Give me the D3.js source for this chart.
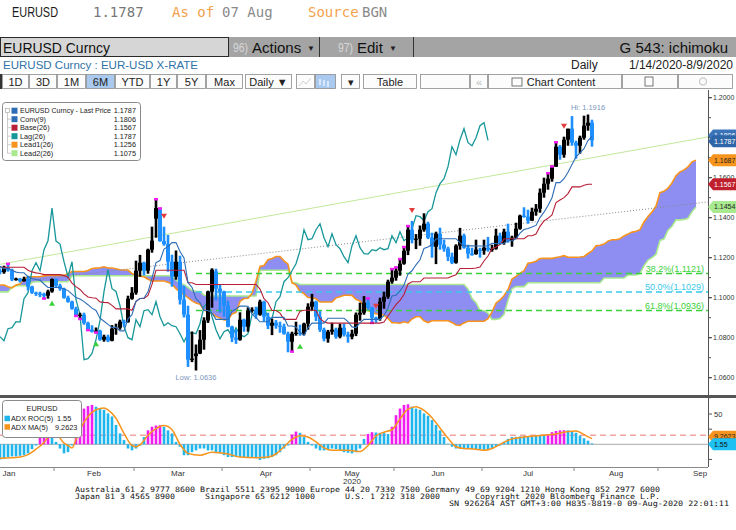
<!DOCTYPE html>
<html><head><meta charset="utf-8">
<script src="https://cdn.jsdelivr.net/npm/d3@7"></script>
<style>body{margin:0;background:#fff;} svg{display:block;} text{font-family:"Liberation Sans",Arial,sans-serif;}</style>
</head><body><div id="chart"></div>
<script>
// ---------------- DATA ----------------
const openP=[1.1135,1.1128,1.1150,1.1137,1.1091,1.1095,1.1083,1.1093,1.1055,1.1025,
1.1020,1.1018,1.1010,1.1031,1.1093,1.1060,1.1045,1.1000,1.0980,1.0945,
1.0910,1.0915,1.0873,1.0840,1.0830,1.0835,1.0790,1.0805,1.0785,1.0845,
1.0850,1.0880,1.0878,1.0995,1.1025,1.1135,1.1175,1.1135,1.1240,1.1395,
1.1447,1.1283,1.1268,1.1180,1.1105,1.1180,1.0990,1.0915,1.0692,1.0708,
1.0721,1.0790,1.0886,1.1030,1.1131,1.1045,1.1031,1.0960,1.0855,1.0800,
1.0790,1.0890,1.0855,1.0935,1.0940,1.0915,1.0980,1.0905,1.0860,1.0875,
1.0860,1.0855,1.0820,1.0780,1.0820,1.0825,1.0820,1.0870,1.0955,1.0980,
1.0905,1.0840,1.0795,1.0830,1.0840,1.0805,1.0850,1.0815,1.0805,1.0820,
1.0915,1.0925,1.0975,1.0950,1.0900,1.0895,1.0980,1.1005,1.1080,1.1100,
1.1135,1.1170,1.1235,1.1340,1.1290,1.1295,1.1340,1.1370,1.1300,1.1255,
1.1320,1.1265,1.1245,1.1205,1.1175,1.1260,1.1310,1.1250,1.1220,1.1218,
1.1240,1.1235,1.1250,1.1240,1.1245,1.1310,1.1275,1.1330,1.1285,1.1300,
1.1345,1.1410,1.1405,1.1385,1.1430,1.1445,1.1525,1.1570,1.1595,1.1655,
1.1755,1.1715,1.1790,1.1845,1.1775,1.1760,1.1800,1.1860,1.1875];
const highP=[1.1146,1.1160,1.1173,1.1145,1.1100,1.1099,1.1105,1.1110,1.1060,1.1030,
1.1030,1.1025,1.1040,1.1096,1.1096,1.1070,1.1050,1.1010,1.0985,1.0955,
1.0925,1.0925,1.0880,1.0862,1.0851,1.0840,1.0815,1.0815,1.0863,1.0870,
1.0890,1.0890,1.1010,1.1053,1.1185,1.1214,1.1180,1.1245,1.1355,1.1496,
1.1450,1.1355,1.1314,1.1215,1.1236,1.1210,1.1060,1.0960,1.0831,1.0766,
1.0838,1.0902,1.1035,1.1147,1.1145,1.1066,1.1035,1.0985,1.0860,1.0840,
1.0927,1.0895,1.0952,1.0952,1.0955,1.0990,1.0985,1.0925,1.0895,1.0888,
1.0880,1.0870,1.0830,1.0830,1.0880,1.0865,1.0875,1.0972,1.1019,1.0985,
1.0933,1.0850,1.0839,1.0875,1.0850,1.0870,1.0870,1.0830,1.0840,1.0926,
1.0975,1.1008,1.1000,1.0955,1.0905,1.1000,1.1030,1.1090,1.1147,1.1155,
1.1197,1.1257,1.1362,1.1384,1.1318,1.1361,1.1422,1.1380,1.1325,1.1330,
1.1350,1.1290,1.1255,1.1225,1.1267,1.1349,1.1320,1.1265,1.1250,1.1290,
1.1250,1.1290,1.1304,1.1265,1.1345,1.1325,1.1345,1.1370,1.1310,1.1375,
1.1415,1.1452,1.1440,1.1450,1.1468,1.1546,1.1600,1.1626,1.1660,1.1781,
1.1763,1.1805,1.1845,1.1908,1.1785,1.1810,1.1910,1.1916,1.1890];
const lowP=[1.1117,1.1120,1.1130,1.1083,1.1085,1.1076,1.1080,1.1036,1.1019,1.1009,
1.1003,1.0992,1.0995,1.1025,1.1052,1.1035,1.0995,1.0975,1.0940,1.0905,
1.0890,1.0865,1.0834,1.0826,1.0822,1.0785,1.0780,1.0778,1.0782,1.0815,
1.0840,1.0855,1.0875,1.0990,1.1015,1.1105,1.1112,1.1120,1.1225,1.1300,
1.1280,1.1260,1.1130,1.1055,1.1090,1.0966,1.0901,1.0654,1.0678,1.0636,
1.0718,1.0740,1.0874,1.0950,1.0986,1.0925,1.0905,1.0852,1.0778,1.0769,
1.0785,1.0830,1.0830,1.0925,1.0895,1.0910,1.0880,1.0843,1.0813,1.0845,
1.0825,1.0815,1.0727,1.0727,1.0810,1.0810,1.0812,1.0840,1.0935,1.0883,
1.0829,1.0782,1.0775,1.0815,1.0795,1.0797,1.0806,1.0775,1.0792,1.0808,
1.0885,1.0915,1.0940,1.0870,1.0875,1.0885,1.0945,1.0995,1.1070,1.1085,
1.1110,1.1165,1.1213,1.1272,1.1243,1.1260,1.1330,1.1293,1.1200,1.1168,
1.1240,1.1230,1.1183,1.1168,1.1170,1.1240,1.1245,1.1196,1.1210,1.1215,
1.1200,1.1215,1.1230,1.1230,1.1240,1.1265,1.1265,1.1275,1.1255,1.1295,
1.1340,1.1400,1.1370,1.1385,1.1410,1.1425,1.1500,1.1540,1.1580,1.1655,
1.1690,1.1700,1.1760,1.1760,1.1695,1.1720,1.1790,1.1835,1.1755];
const closeP=[1.1128,1.1150,1.1137,1.1091,1.1095,1.1083,1.1093,1.1055,1.1025,1.1020,
1.1018,1.1010,1.1031,1.1093,1.1060,1.1045,1.1000,1.0980,1.0945,1.0910,
1.0915,1.0873,1.0840,1.0830,1.0835,1.0790,1.0805,1.0785,1.0845,1.0850,
1.0880,1.0878,1.0995,1.1025,1.1135,1.1175,1.1135,1.1240,1.1285,1.1448,
1.1283,1.1268,1.1180,1.1105,1.1180,1.0990,1.0915,1.0690,1.0695,1.0721,
1.0790,1.0886,1.1030,1.1140,1.1045,1.1031,1.0960,1.0855,1.0800,1.0790,
1.0890,1.0855,1.0935,1.0940,1.0915,1.0980,1.0905,1.0860,1.0875,1.0860,
1.0855,1.0820,1.0780,1.0820,1.0825,1.0820,1.0870,1.0955,1.0980,1.0905,
1.0840,1.0795,1.0830,1.0840,1.0805,1.0850,1.0815,1.0805,1.0820,1.0915,
1.0925,1.0975,1.0950,1.0900,1.0895,1.0980,1.1005,1.1080,1.1100,1.1135,
1.1170,1.1235,1.1340,1.1290,1.1295,1.1340,1.1370,1.1300,1.1255,1.1320,
1.1265,1.1245,1.1205,1.1175,1.1260,1.1310,1.1250,1.1220,1.1218,1.1240,
1.1235,1.1250,1.1240,1.1245,1.1310,1.1275,1.1330,1.1285,1.1300,1.1345,
1.1410,1.1405,1.1385,1.1430,1.1445,1.1525,1.1570,1.1595,1.1655,1.1755,
1.1715,1.1790,1.1845,1.1775,1.1760,1.1800,1.1860,1.1875,1.1787];

const convLine=[1.1157,1.11455,1.11455,1.11375,1.1128,1.11245,1.11245,1.11045,1.1096,1.1091,
1.1088,1.10685,1.1051,1.1051,1.1051,1.1051,1.1044,1.10355,1.1018,1.10005,
1.0993,1.09805,1.0965,1.0948,1.0936,1.08975,1.08825,1.08665,1.08515,1.08515,
1.0834,1.0834,1.0894,1.09155,1.09815,1.0996,1.0998,1.1030,1.10975,1.11755,
1.11855,1.1243,1.12555,1.12755,1.12755,1.1231,1.11985,1.1075,1.1052,1.09955,
1.0975,1.0936,1.0936,1.0923,1.08915,1.08915,1.08915,1.08915,1.09325,1.09435,
1.0958,1.0958,1.0957,1.09175,1.0900,1.08795,1.08795,1.08795,1.09015,1.09015,
1.09015,1.09015,1.08585,1.08585,1.08535,1.0826,1.0811,1.08495,1.0873,1.0873,
1.0873,1.0873,1.0897,1.0897,1.0897,1.0897,1.0897,1.0880,1.0854,1.08505,
1.0875,1.08915,1.08915,1.08915,1.08915,1.08915,1.0911,1.0949,1.10085,1.10125,
1.10335,1.10635,1.11185,1.11345,1.11645,1.11895,1.1246,1.12535,1.1266,1.12935,
1.1295,1.1295,1.1295,1.1295,1.1295,1.1274,1.1259,1.1259,1.1259,1.12585,
1.12585,1.12585,1.12595,1.12725,1.12705,1.12705,1.12725,1.1285,1.1285,1.1295,
1.13225,1.1341,1.1346,1.13535,1.13615,1.14005,1.14275,1.14605,1.1500,1.15755,
1.15755,1.1595,1.16275,1.16665,1.1704,1.1724,1.1745,1.17855,1.1806];
const baseLine=[1.1152,1.1152,1.1152,1.1152,1.1152,1.1152,1.1152,1.11375,1.1129,1.1124,
1.1121,1.11155,1.11155,1.11155,1.11155,1.11155,1.11105,1.1102,1.1073,1.10555,
1.1041,1.1019,1.10035,1.09995,1.09975,1.0979,1.09765,1.09755,1.09615,1.0944,
1.0944,1.0944,1.0944,1.0937,1.09815,1.0996,1.0996,1.10115,1.10665,1.1137,
1.1137,1.1137,1.1137,1.1137,1.1137,1.1137,1.1137,1.1075,1.1075,1.1066,
1.1066,1.1066,1.1066,1.1066,1.1066,1.1066,1.1066,1.1066,1.1066,1.1066,
1.1066,1.1066,1.1066,1.1066,1.1066,1.1043,1.09955,1.0975,1.0936,1.0936,
1.0923,1.08915,1.08915,1.08915,1.08915,1.09325,1.0937,1.0937,1.0937,1.0936,
1.08965,1.0879,1.0873,1.0873,1.0873,1.0873,1.0873,1.0873,1.0873,1.0873,
1.0873,1.0873,1.0873,1.0873,1.0873,1.0873,1.08785,1.09085,1.0937,1.0965,
1.0986,1.1016,1.10685,1.10795,1.10795,1.10795,1.10985,1.10985,1.10985,1.10985,
1.10985,1.10985,1.10985,1.1107,1.1115,1.1146,1.1146,1.1146,1.1146,1.11485,
1.11535,1.11835,1.12085,1.1246,1.12535,1.1266,1.12935,1.1295,1.1295,1.1295,
1.1295,1.1295,1.1310,1.1310,1.1318,1.1357,1.1384,1.1397,1.1414,1.14755,
1.14885,1.15005,1.15205,1.1554,1.1554,1.1554,1.15625,1.1567,1.1567];
// Leading spans, already displaced 26 periods forward (index 0 = first chart day)
const lead1Line=[1.10635,1.10635,1.1055,1.1049,1.1063,1.1068,1.10955,1.1105,1.1105,1.1105,
1.1105,1.1109,1.11115,1.11115,1.11115,1.11115,1.11115,1.1121,1.1131,1.1131,
1.1131,1.1131,1.1136,1.1146,1.1148,1.1150,
1.11545,1.11488,1.11488,1.11448,1.1140,1.11383,1.11383,1.1121,1.11125,1.11075,
1.11045,1.1092,1.10833,1.10833,1.10833,1.10833,1.10773,1.10688,1.10455,1.1028,
1.1017,1.09998,1.09843,1.09738,1.09668,1.09383,1.09295,1.0921,1.09065,1.08978,
1.0889,1.0889,1.0919,1.09263,1.09815,1.0996,1.0997,1.10208,1.1082,1.11563,
1.11613,1.1190,1.11963,1.12063,1.12063,1.1184,1.11678,1.1075,1.10635,1.10308,
1.10205,1.1001,1.1001,1.09945,1.09788,1.09788,1.09788,1.09788,1.09993,1.10048,
1.1012,1.1012,1.10115,1.09918,1.0983,1.09613,1.09375,1.09273,1.09188,1.09188,
1.09123,1.08965,1.0875,1.0875,1.08725,1.08793,1.0874,1.08933,1.0905,1.09045,
1.08848,1.0876,1.0885,1.0885,1.0885,1.0885,1.0885,1.08765,1.08635,1.08618,
1.0874,1.08823,1.08823,1.08823,1.08823,1.08823,1.08948,1.09288,1.09728,1.09888,
1.10098,1.10398,1.10935,1.1107,1.1122,1.11345,1.11723,1.1176,1.11823,1.1196,
1.11968,1.11968,1.11968,1.1201,1.1205,1.1210,1.12025,1.12025,1.12025,1.12035,
1.1206,1.1221,1.1234,1.12593,1.1262,1.12683,1.1283,1.1290,1.1290,1.1295,
1.13088,1.1318,1.1328,1.13318,1.13398,1.13788,1.14058,1.14288,1.1457,1.15255,
1.1532,1.15478,1.1574,1.16103,1.1629,1.1639,1.16538,1.16793,1.1687];
const lead2Line=[1.1029,1.1029,1.1029,1.1052,1.10595,1.10595,1.10595,1.10595,1.1077,1.1080,
1.1080,1.1080,1.1080,1.1080,1.1080,1.1080,1.1080,1.1080,1.1110,1.1110,
1.1110,1.1110,1.1110,1.1110,1.1110,1.1110,
1.1110,1.1110,1.1110,1.1110,1.1110,1.1110,1.1110,1.1110,1.1110,1.1110,
1.1110,1.1110,1.1110,1.1110,1.1110,1.1110,1.1110,1.1107,1.10895,1.1072,
1.10645,1.1052,1.10365,1.10325,1.10305,1.1012,1.10095,1.10085,1.10085,1.10085,
1.10085,1.10085,1.10085,1.10085,1.10085,1.10085,1.10085,1.10085,1.10085,1.1137,
1.1137,1.1137,1.1137,1.1137,1.1137,1.1137,1.1137,1.1075,1.1075,1.1066,
1.1066,1.1066,1.1066,1.1066,1.1066,1.1066,1.1066,1.1066,1.1066,1.1066,
1.1066,1.1066,1.1066,1.1066,1.1066,1.1066,1.1066,1.1066,1.1066,1.1066,
1.1066,1.1066,1.1066,1.1066,1.1066,1.1066,1.1066,1.1066,1.1066,1.1066,
1.1066,1.1066,1.1066,1.1066,1.1066,1.1066,1.1066,1.1066,1.1066,1.1066,
1.1066,1.1043,1.09955,1.0975,1.0936,1.0936,1.0923,1.08915,1.08915,1.08955,
1.09165,1.09875,1.10445,1.10555,1.10555,1.10555,1.10745,1.10745,1.10745,1.10745,
1.10745,1.10745,1.10745,1.10745,1.10745,1.10745,1.10745,1.10745,1.10745,1.10745,
1.10745,1.10745,1.10745,1.10745,1.10745,1.10985,1.10985,1.10985,1.10985,1.10985,
1.10985,1.11135,1.11135,1.11135,1.11215,1.11605,1.11875,1.12005,1.12175,1.12865,
1.12945,1.13375,1.13575,1.1389,1.1389,1.13915,1.13975,1.14305,1.1454];

const adxRoc=[-25,-24,-21,-20,-20,-19,-18,-15,-8,-2,
17,24,26,20,4,-7,-15,-13,-2,20,
43,59,63,65,62,59,57,51,46,32,
18,7,-7,-10,-7,-2,12,23,29,31,
31.5,29,23,18,4,-4,-18,-18,-13,-10,
-7,-7,-10,-10,-13,-15,-18,-21,-21,-21,
-21,-21,-21,-21,-23,-26,-24,-23,-21,-18,
-13,-7,-2,16,21,19,12,4,-2,-7,
-10,-10,-8,-7,-8,-10,-13,-14,-15,-13,
-7,9,17,20,19.5,19,18.5,17,29,48,
59,65,66,62,59,57,51,47,40,32,
23,12,1,-4,-7,-7,-8,-8,-8,-8.5,
-8.5,-9,-9,-7,-4,-2,4,9,12,12.2,
13,13.2,13.5,13.8,14.5,14.6,14.8,17,20,22,
23,23.2,23,21,19,14.5,10,6,1.55];
const adxMaIdx=[0,5,7,9,11,12,14,16,17,18,19,20,22,24,26,27,29,31,33,34,35,37,39,41,43,45,47,50,53,57,60,64,67,69,71,73,75,77,79,81,83,87,90,92,94,96,98,100,102,104,106,108,110,112,114,116,119,121,123,125,128,131,135,139,142,144,146,148];
const adxMaVal=[-23,-21,-17,-8,3,11,16,2,-2,-6,8,24,46,57,60,57,43,18,-2,-4,-1,15,26,31,24,0,-15,-18,-13,-16,-21,-22,-21,-16,-4,8,14,12,4,-6,-10,-10,-12,-2,14,20,24,42,58,62,56,44,27,10,-4,-7,-8,-10,-7,0,9,12,14.5,17,21,22,16,9.26];
const adxLevel=15;

const monthLabels=["Jan","Feb","Mar","Apr","May","Jun","Jul","Aug","Sep"];
const monthStart=[-9,14,34,56,78,99,121,144,165,186];
const priceTicks=[1.06,1.08,1.10,1.12,1.14,1.16,1.18,1.20];
const fibVals=[1.1121,1.1029,1.0936];
const fibLabels=["38.2%(1.1121)","50.0%(1.1029)","61.8%(1.0936)"];
const fibStartIdx=49;
const trendIdx=[0,177], trendVal=[1.1167,1.1804];
const dotIdx=[10,177], dotVal=[1.1093,1.1479];
const sellIdx=[41,94,103,141], buyIdx=[13,24,75];
const tdHigh=[2,39,40,92,98,99,100,101,102,137,138,139], tdLow=[11,19,20,22,24,73,93];
const legendNames=["EURUSD Curncy - Last Price","Conv(9)","Base(26)","Lag(26)","Lead1(26)","Lead2(26)"];
const legendVals=["1.1787","1.1806","1.1567","1.1787","1.1256","1.1075"];
const adxNames=["ADX ROC(5)","ADX MA(5)"], adxVals=["1.55","9.2623"];
const lagShift=26;

// ---------------- STYLE ----------------
const C={up:"#000",down:"#1e8fff",conv:"#2d6db5",base:"#b61f37",lag:"#17979a",lead1:"#f7941d",lead2:"#a8e88e",cloud:"#8e8ef2",mag:"#f01cf0",cyan:"#1fb6ee"};
const legendColors=[C.conv,C.conv,C.base,C.lag,C.lead1,C.lead2];
const mono='"DejaVu Sans Mono",monospace';

const W=736,H=530;
const svg=d3.select("#chart").append("svg").attr("width",W).attr("height",H);
svg.append("rect").attr("width",W).attr("height",H).attr("fill","#fff");

// ---------------- HEADER ----------------
svg.append("text").attr("x",12).attr("y",17).attr("font-size",15).attr("textLength",46).attr("lengthAdjust","spacingAndGlyphs").attr("fill","#1a1a1a").text("EURUSD");
svg.append("text").attr("x",93).attr("y",17).style("font-family",mono).attr("font-size",14).attr("fill","#777").text(closeP[closeP.length-1].toFixed(4));
svg.append("text").attr("x",172).attr("y",17).style("font-family",mono).attr("font-size",14).attr("fill","#f4a14c").text("As of");
svg.append("text").attr("x",222).attr("y",17).style("font-family",mono).attr("font-size",14).attr("fill","#8a8a8a").text("07 Aug");
svg.append("text").attr("x",308).attr("y",17).style("font-family",mono).attr("font-size",14).attr("fill","#f4a14c").text("Source");
svg.append("text").attr("x",362).attr("y",17).style("font-family",mono).attr("font-size",14).attr("fill","#8a8a8a").text("BGN");

svg.append("rect").attr("x",0).attr("y",37).attr("width",W).attr("height",20).attr("fill","#a4a4a4");
svg.append("rect").attr("x",0.5).attr("y",37.5).attr("width",228).attr("height",19).attr("fill","#d6d6d6").attr("stroke","#2a2a2a");
svg.append("text").attr("x",3).attr("y",53).attr("font-size",15).attr("textLength",107).attr("lengthAdjust","spacingAndGlyphs").attr("fill","#111").text("EURUSD Curncy");
svg.append("text").attr("x",233).attr("y",52).attr("font-size",12).attr("textLength",15).attr("lengthAdjust","spacingAndGlyphs").attr("fill","#d8d8d8").text("96)");
svg.append("text").attr("x",252).attr("y",53).attr("font-size",15).attr("fill","#111").text("Actions");
svg.append("text").attr("x",307).attr("y",51).attr("font-size",8).attr("fill","#222").text("▼");
svg.append("line").attr("x1",319.5).attr("x2",319.5).attr("y1",37).attr("y2",57).attr("stroke","#333");
svg.append("text").attr("x",338).attr("y",52).attr("font-size",12).attr("textLength",15).attr("lengthAdjust","spacingAndGlyphs").attr("fill","#d8d8d8").text("97)");
svg.append("text").attr("x",357).attr("y",53).attr("font-size",15).attr("fill","#111").text("Edit");
svg.append("text").attr("x",389).attr("y",51).attr("font-size",8).attr("fill","#222").text("▼");
svg.append("line").attr("x1",413.5).attr("x2",413.5).attr("y1",37).attr("y2",57).attr("stroke","#333");
svg.append("text").attr("x",728).attr("y",53).attr("text-anchor","end").attr("font-size",15).attr("fill","#111").text("G 543: ichimoku");

svg.append("text").attr("x",3).attr("y",69).attr("font-size",11.5).attr("textLength",195).attr("lengthAdjust","spacingAndGlyphs").attr("fill","#2f73a6").text("EURUSD Curncy : EUR-USD X-RATE");
svg.append("text").attr("x",571).attr("y",69).attr("font-size",12).attr("fill","#222").text("Daily");
svg.append("text").attr("x",733).attr("y",69).attr("text-anchor","end").attr("font-size",12).attr("fill","#222").text("1/14/2020-8/9/2020");

// toolbar
const btns=[[2,29,"1D"],[29,57,"3D"],[57,86,"1M"],[86,115,"6M"],[115,150,"YTD"],[150,177,"1Y"],[177,206,"5Y"],[206,243,"Max"],[245,292,"Daily ▼"],[296,315,""],[315,336,""],[341,360,"▾"],[363,417,"Table"],[420,470,""],[470,488,"«"],[488,622,"Chart Content"],[622,678,""],[678,733,""]];
svg.append("rect").attr("x",0).attr("y",74).attr("width",2).attr("height",15).attr("fill","#333");
btns.forEach(([a,b,t],k)=>{
  const hl=(t==="6M"||k===10);
  svg.append("rect").attr("x",a+0.5).attr("y",74.5).attr("width",b-a-1).attr("height",14).attr("fill",hl?"#a9c9ee":"#fcfcfc").attr("stroke","#8c8c8c").attr("stroke-width",0.8);
  if(t) svg.append("text").attr("x",(a+b)/2+(t==="Chart Content"?6:0)).attr("y",85.5).attr("text-anchor","middle").attr("font-size",11).attr("fill",t==="«"?"#bbb":"#222").text(t);
});
svg.append("polyline").attr("points","299,86 303,81 306,84 311,78").attr("fill","none").attr("stroke","#d0d0d0");
svg.append("g").selectAll("rect").data([0,1,2]).join("rect").attr("x",d=>319+d*4).attr("y",d=>79+d).attr("width",2).attr("height",6).attr("fill","#d8e8fa");
svg.append("rect").attr("x",512).attr("y",78).attr("width",10).attr("height",8).attr("fill","none").attr("stroke","#555").attr("stroke-width",0.8);
svg.append("rect").attr("x",645).attr("y",77).attr("width",8).attr("height",9).attr("fill","none").attr("stroke","#555").attr("stroke-width",0.8);
svg.append("circle").attr("cx",703).attr("cy",81.5).attr("r",3.5).attr("fill","none").attr("stroke","#d0d0d0").attr("stroke-width",1.5);

// ---------------- SCALES ----------------
const xs=d3.scaleLinear().domain([0,177]).range([0,708]);
const ys=d3.scaleLinear().domain([1.06,1.20]).range([377.7,97.7]);
const ya=d3.scaleLinear().domain([0,50]).range([444.3,414]);

svg.append("clipPath").attr("id","mc").append("rect").attr("x",0).attr("y",90).attr("width",708).attr("height",305);
svg.append("clipPath").attr("id","bc").append("rect").attr("x",0).attr("y",398).attr("width",708).attr("height",69);
const main=svg.append("g").attr("clip-path","url(#mc)");

// cloud
const idx=d3.range(lead1Line.length);
main.append("path").datum(idx).attr("fill",C.cloud)
  .attr("d",d3.area().x(j=>xs(j)).y0(j=>ys(lead2Line[j])).y1(j=>ys(lead1Line[j])));
main.append("path").datum(idx).attr("fill","none").attr("stroke",C.lead2).attr("stroke-width",1.6)
  .attr("d",d3.line().x(j=>xs(j)).y(j=>ys(lead2Line[j])));
main.append("path").datum(idx).attr("fill","none").attr("stroke",C.lead1).attr("stroke-width",1.6)
  .attr("d",d3.line().x(j=>xs(j)).y(j=>ys(lead1Line[j])));

// fib lines
const fibColors=["#3bd13b","#39c8ea","#3bd13b"];
fibVals.forEach((v,k)=>{
  main.append("line").attr("x1",xs(fibStartIdx)).attr("x2",708).attr("y1",ys(v)).attr("y2",ys(v))
    .attr("stroke",fibColors[k]).attr("stroke-width",1.5).attr("stroke-dasharray","6,4");
  main.append("text").attr("x",704).attr("y",ys(v)-1.5).attr("text-anchor","end").attr("font-size",9).attr("fill",fibColors[k]).text(fibLabels[k]);
});

// trend lines
main.append("line").attr("x1",xs(trendIdx[0])).attr("x2",xs(trendIdx[1])).attr("y1",ys(trendVal[0])).attr("y2",ys(trendVal[1])).attr("stroke","#c3e89c").attr("stroke-width",1);
main.append("line").attr("x1",xs(dotIdx[0])).attr("x2",xs(dotIdx[1])).attr("y1",ys(dotVal[0])).attr("y2",ys(dotVal[1])).attr("stroke","#8a8a8a").attr("stroke-width",1).attr("stroke-dasharray","1,2");

// lag line
const lagPts=closeP.map((c,i)=>[i-lagShift,c]).filter(p=>p[0]>=0);
main.append("path").datum(lagPts).attr("fill","none").attr("stroke",C.lag).attr("stroke-width",1.3)
  .attr("d",d3.line().x(p=>xs(p[0])).y(p=>ys(p[1])));

// candles
const cg=main.append("g");
closeP.forEach((c,i)=>{
  const o=openP[i], up=c>=o, col=up?C.up:C.down;
  cg.append("rect").attr("x",xs(i)-1.3).attr("width",2.6).attr("y",ys(highP[i])).attr("height",Math.max(1,ys(lowP[i])-ys(highP[i]))).attr("fill",col);
  const top=ys(Math.max(o,c)), bot=ys(Math.min(o,c));
  cg.append("rect").attr("x",xs(i)-2).attr("width",4).attr("y",top).attr("height",Math.max(1.2,bot-top)).attr("fill",col);
});
tdHigh.forEach(i=>cg.append("rect").attr("x",xs(i)-2).attr("width",4).attr("y",ys(highP[i])-0.5).attr("height",2.5).attr("fill",C.mag));
tdLow.forEach(i=>cg.append("rect").attr("x",xs(i)-2).attr("width",4).attr("y",ys(lowP[i])-2).attr("height",2.5).attr("fill",C.mag));

// conv & base
main.append("path").datum(baseLine).attr("fill","none").attr("stroke",C.base).attr("stroke-width",1.1)
  .attr("d",d3.line().x((d,i)=>xs(i)).y(d=>ys(d)));
main.append("path").datum(convLine).attr("fill","none").attr("stroke",C.conv).attr("stroke-width",1.1)
  .attr("d",d3.line().x((d,i)=>xs(i)).y(d=>ys(d)));

// signals
sellIdx.forEach(i=>{const x=xs(i),y=ys(highP[i])-10;
  main.append("path").attr("d",`M${x-3},${y-3}L${x+3},${y-3}L${x},${y+2}Z`).attr("fill","#e23b3b");});
buyIdx.forEach(i=>{const x=xs(i),y=ys(lowP[i])+10;
  main.append("path").attr("d",`M${x-3},${y+3}L${x+3},${y+3}L${x},${y-2}Z`).attr("fill","#3ad13a");});

// hi / low labels
const iLo=d3.minIndex(lowP), iHi=d3.maxIndex(highP);
main.append("text").attr("x",xs(iLo)).attr("y",ys(lowP[iLo])+9).attr("text-anchor","middle").attr("font-size",7.5).attr("fill","#7b98bd").text("Low: "+lowP[iLo].toFixed(4));
main.append("text").attr("x",xs(iHi)).attr("y",ys(highP[iHi])-5).attr("text-anchor","middle").attr("font-size",7.5).attr("fill","#7b98bd").text("Hi: "+highP[iHi].toFixed(4));

// legend (main)
const lg=svg.append("g");
lg.append("rect").attr("x",2.5).attr("y",102.5).attr("width",138).attr("height",58).attr("rx",3).attr("fill","#fff").attr("stroke","#8a8a8a");
lg.append("rect").attr("x",5.5).attr("y",108.5).attr("width",4).attr("height",4).attr("fill","#fff").attr("stroke","#999").attr("stroke-width",0.6);
lg.append("line").attr("x1",7.5).attr("x2",7.5).attr("y1",113).attr("y2",153.5).attr("stroke","#aaa").attr("stroke-width",0.6);
legendNames.forEach((n,k)=>{
  const y=110.7+k*8.5;
  if(k>0) lg.append("line").attr("x1",7.5).attr("x2",11).attr("y1",y).attr("y2",y).attr("stroke","#aaa").attr("stroke-width",0.6);
  lg.append("rect").attr("x",11.5).attr("y",y-3).attr("width",6).attr("height",6).attr("fill",legendColors[k]);
  const t=lg.append("text").attr("x",20).attr("y",y+2.7).attr("font-size",7.3).attr("fill","#222").text(n);
  if(k===0) t.attr("textLength",91).attr("lengthAdjust","spacingAndGlyphs");
  lg.append("text").attr("x",136).attr("y",y+2.7).attr("text-anchor","end").attr("font-size",7.3).attr("fill","#222").text(legendVals[k]);
});

// right axis (main)
svg.append("line").attr("x1",708.5).attr("x2",708.5).attr("y1",90).attr("y2",395).attr("stroke","#555");
d3.range(1.05,1.2051,0.01).forEach(v=>{
  if(ys(v)<92) return;
  svg.append("line").attr("x1",708).attr("x2",711).attr("y1",ys(v)).attr("y2",ys(v)).attr("stroke","#555");
});
priceTicks.forEach(v=>{
  svg.append("line").attr("x1",708).attr("x2",712).attr("y1",ys(v)).attr("y2",ys(v)).attr("stroke","#444");
  if(Math.abs(v-1.18)<1e-6) return; // fully hidden behind value tags
  svg.append("text").attr("x",713).attr("y",ys(v)+2.5).attr("font-size",7).attr("fill","#333").text(v.toFixed(4));
});
function tag(y,fill,txt,tc){
  svg.append("path").attr("d",`M708,${y}L713,${y-6}L736,${y-6}L736,${y+6}L713,${y+6}Z`).attr("fill",fill);
  svg.append("text").attr("x",714).attr("y",y+2.5).attr("font-size",7).attr("fill",tc).text(txt);
}
tag(ys(+legendVals[1])-1,"#3b74b8",legendVals[1],"#fff");
tag(ys(+legendVals[0])+1,"#2f66a8",legendVals[0],"#fff");
tag(ys(lead1Line[lead1Line.length-1]),C.lead1,lead1Line[lead1Line.length-1].toFixed(4),"#222");
tag(ys(+legendVals[2]),"#c0202d",legendVals[2],"#fff");
tag(ys(lead2Line[lead2Line.length-1]),"#a9ea90",lead2Line[lead2Line.length-1].toFixed(4),"#222");

// separator
svg.append("rect").attr("x",0).attr("y",395).attr("width",W).attr("height",3).attr("fill","#555");

// ---------------- LOWER PANEL ----------------
const bp=svg.append("g").attr("clip-path","url(#bc)");
bp.append("line").attr("x1",0).attr("x2",708).attr("y1",ya(0)).attr("y2",ya(0)).attr("stroke","#aaa").attr("stroke-width",1);
bp.append("line").attr("x1",0).attr("x2",708).attr("y1",ya(adxLevel)).attr("y2",ya(adxLevel)).attr("stroke","#f4a3a3").attr("stroke-width",1.6).attr("stroke-dasharray","6,4");
adxRoc.forEach((v,i)=>{
  const prev=i>0?adxRoc[i-1]:v;
  const col=(v>adxLevel&&v>=prev)?C.mag:C.cyan;
  bp.append("rect").attr("x",xs(i)-1.3).attr("width",2.6).attr("y",Math.min(ya(0),ya(v))).attr("height",Math.abs(ya(v)-ya(0))).attr("fill",col);
});
bp.append("path").datum(adxMaIdx.map((d,k)=>[d,adxMaVal[k]])).attr("fill","none").attr("stroke",C.lead1).attr("stroke-width",1.5)
  .attr("d",d3.line().x(p=>xs(p[0])).y(p=>ya(p[1])).curve(d3.curveMonotoneX));

// lower axes
svg.append("line").attr("x1",708.5).attr("x2",708.5).attr("y1",398).attr("y2",467).attr("stroke","#555");
svg.append("line").attr("x1",0).attr("x2",708).attr("y1",467.5).attr("y2",467.5).attr("stroke","#888");
[-25,0,25,50].forEach(v=>svg.append("line").attr("x1",708).attr("x2",712).attr("y1",ya(v)).attr("y2",ya(v)).attr("stroke","#555"));
svg.append("text").attr("x",714).attr("y",ya(50)+2.7).attr("font-size",7.5).attr("fill","#333").text("50");
tag(ya(adxMaVal[adxMaVal.length-1])-2,"#f7941d",adxVals[1],"#222");
tag(ya(adxRoc[adxRoc.length-1])+1,"#1fc0f2",adxVals[0],"#111");

// month axis
monthLabels.forEach((m,k)=>{
  const a=monthStart[k], b=monthStart[k+1];
  if(k>0) svg.append("line").attr("x1",xs(a-0.5)).attr("x2",xs(a-0.5)).attr("y1",467).attr("y2",471).attr("stroke","#888");
  let cx=xs((a+b)/2)-2; if(k===0) cx=9;
  svg.append("text").attr("x",cx).attr("y",476).attr("text-anchor","middle").attr("font-size",8).attr("fill","#333").text(m);
  if(m==="May") svg.append("text").attr("x",cx).attr("y",484).attr("text-anchor","middle").attr("font-size",8).attr("fill","#333").text("2020");
});

// lower legend
const lg2=svg.append("g");
lg2.append("rect").attr("x",2.5).attr("y",400.5).attr("width",79).attr("height",37).attr("rx",3).attr("fill","#fff").attr("stroke","#8a8a8a");
lg2.append("text").attr("x",42).attr("y",411).attr("text-anchor","middle").attr("font-size",7.3).attr("fill","#222").text("EURUSD");
adxNames.forEach((n,k)=>{
  const y=418.5+k*8.5, c=k===0?C.cyan:"#f7941d";
  lg2.append("rect").attr("x",4.5).attr("y",y-2.8).attr("width",5.5).attr("height",5.5).attr("fill",c);
  lg2.append("text").attr("x",11).attr("y",y+2.6).attr("font-size",7.3).attr("fill","#222").text(n);
  lg2.append("text").attr("x",k===0?57:55).attr("y",y+2.6).attr("font-size",7.3).attr("fill","#222").text(adxVals[k]);
});

// footer
const ft=[[75,492,"Australia 61 2 9777 8600 Brazil 5511 2395 9000 Europe 44 20 7330 7500 Germany 49 69 9204 1210 Hong Kong 852 2977 6000"],
[75,499,"Japan 81 3 4565 8900"],[205,499,"Singapore 65 6212 1000"],[345,499,"U.S. 1 212 318 2000"],[475,499,"Copyright 2020 Bloomberg Finance L.P."],
[449,506,"SN 926264 AST  GMT+3:00 H835-8819-0 09-Aug-2020 22:01:11"]];
ft.forEach(([x,y,t])=>svg.append("text").attr("x",x).attr("y",y).style("font-family",mono).attr("font-size",7.4).attr("textLength",t.length*5).attr("lengthAdjust","spacingAndGlyphs").attr("fill","#111").text(t));
</script></body></html>
